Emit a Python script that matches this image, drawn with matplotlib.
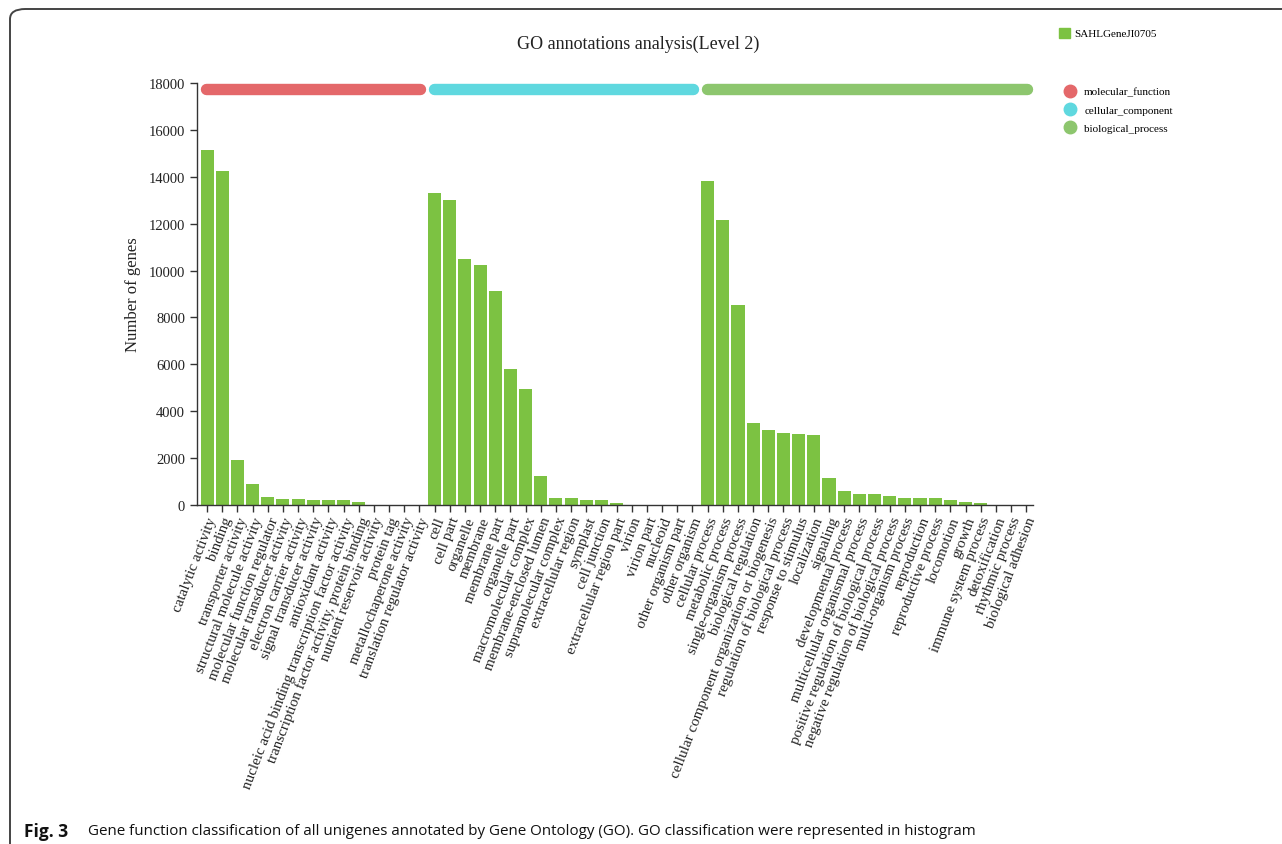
import numpy as np
import matplotlib.pyplot as plt
from matplotlib.lines import Line2D
from matplotlib.patches import Patch, FancyBboxPatch

# GO level-2 terms and gene counts
mf_terms = ['catalytic activity', 'binding', 'transporter activity',
            'structural molecule activity', 'molecular function regulator',
            'molecular transducer activity', 'electron carrier activity',
            'signal transducer activity', 'antioxidant activity',
            'nucleic acid binding transcription factor activity',
            'transcription factor activity, protein binding',
            'nutrient reservoir activity', 'protein tag',
            'metallochaperone activity', 'translation regulator activity']
mf_counts = [15140, 14240, 1900, 910, 360, 245, 245, 230, 230, 200, 125, 12, 6, 5, 5]

cc_terms = ['cell', 'cell part', 'organelle', 'membrane', 'membrane part',
            'organelle part', 'macromolecular complex', 'membrane-enclosed lumen',
            'supramolecular complex', 'extracellular region', 'symplast',
            'cell junction', 'extracellular region part', 'virion', 'virion part',
            'nucleoid', 'other organism part', 'other organism']
cc_counts = [13290, 13000, 10500, 10220, 9140, 5790, 4930, 1240,
             315, 315, 200, 200, 95, 20, 20, 10, 5, 5]

bp_terms = ['cellular process', 'metabolic process', 'single-organism process',
            'biological regulation',
            'cellular component organization or biogenesis',
            'regulation of biological process', 'response to stimulus',
            'localization', 'signaling', 'developmental process',
            'multicellular organismal process',
            'positive regulation of biological process',
            'negative regulation of biological process',
            'multi-organism process', 'reproduction', 'reproductive process',
            'locomotion', 'growth', 'immune system process', 'detoxification',
            'rhythmic process', 'biological adhesion']
bp_counts = [13820, 12140, 8530, 3510, 3190, 3060, 3045, 3000, 1170, 600,
             455, 455, 370, 315, 305, 300, 200, 115, 70, 15, 10, 5]

groups = ['molecular_function', 'cellular_component', 'biological_process']
group_colors = ['#e4686a', '#5fd8df', '#8dc66e']
bar_color = '#7cc242'
sample = 'SAHLGeneJI0705'

terms = mf_terms + cc_terms + bp_terms
counts = mf_counts + cc_counts + bp_counts
sizes = [len(mf_terms), len(cc_terms), len(bp_terms)]

serif = ['Liberation Serif', 'DejaVu Serif']

fig = plt.figure(figsize=(12.82, 8.45), dpi=100)
ax = fig.add_axes([0.1537, 0.4012, 0.6521, 0.4994])

x = np.arange(len(terms))
ax.bar(x, counts, width=0.86, color=bar_color, zorder=2)

# coloured group strips above the bars
start = 0
for n, c in zip(sizes, group_colors):
    ax.plot([start - 0.05, start + n - 0.95], [17750, 17750], color=c,
            lw=8.2, solid_capstyle='round', clip_on=False, zorder=3)
    start += n

ax.set_xlim(-0.66, len(terms) - 0.55)
ax.set_ylim(0, 18000)
ax.set_yticks(np.arange(0, 18001, 2000))
ax.set_xticks(x)
ax.set_xticklabels(terms, rotation=69, ha='right', rotation_mode='anchor',
                   fontsize=10.8, family=serif, color='#222222')
for lab in ax.get_yticklabels():
    lab.set_family(serif)
    lab.set_fontsize(10.5)
    lab.set_color('#222222')
ax.tick_params(axis='both', direction='out', length=5, width=1, color='#333333')
ax.tick_params(axis='x', pad=2)

for s in ['top', 'right']:
    ax.spines[s].set_visible(False)
for s in ['left', 'bottom']:
    ax.spines[s].set_color('#333333')
    ax.spines[s].set_linewidth(1)

ax.set_ylabel('Number of genes', family=serif, fontsize=12, color='#222222', labelpad=6)
fig.text(0.498, 0.948, 'GO annotations analysis(Level 2)', ha='center', va='center',
         family=serif, fontsize=13, color='#222222')

# legends
fig.legend(handles=[Patch(color=bar_color, label=sample)],
           loc='upper left', bbox_to_anchor=(0.818, 0.978), frameon=False,
           prop={'family': serif, 'size': 8}, handlelength=1.0,
           handleheight=1.0, handletextpad=0.4)
circles = [Line2D([], [], marker='o', ls='none', markersize=9, color=c, label=g)
           for g, c in zip(groups, group_colors)]
fig.legend(handles=circles, loc='upper left', bbox_to_anchor=(0.818, 0.908),
           frameon=False, prop={'family': serif, 'size': 8},
           handletextpad=0.3, labelspacing=0.75)

# page frame and caption
frame = FancyBboxPatch((10 / 1282, -0.1), 1.2, (845 - 10) / 845 + 0.1,
                       boxstyle='round,pad=0,rounding_size=0.012',
                       transform=fig.transFigure, fill=False,
                       ec='#444444', lw=1.4, clip_on=False)
fig.patches.append(frame)

fig.text(24 / 1282, 1 - 832 / 845, 'Fig. 3', ha='left', va='center',
         fontsize=12.5, family='Open Sans', fontweight='bold', color='#111111')
fig.text(88 / 1282, 1 - 832 / 845,
         'Gene function classification of all unigenes annotated by Gene Ontology (GO). '
         'GO classification were represented in histogram',
         ha='left', va='center', fontsize=10.9, family='Open Sans', color='#111111')

fig.savefig('out.png', dpi=100)
